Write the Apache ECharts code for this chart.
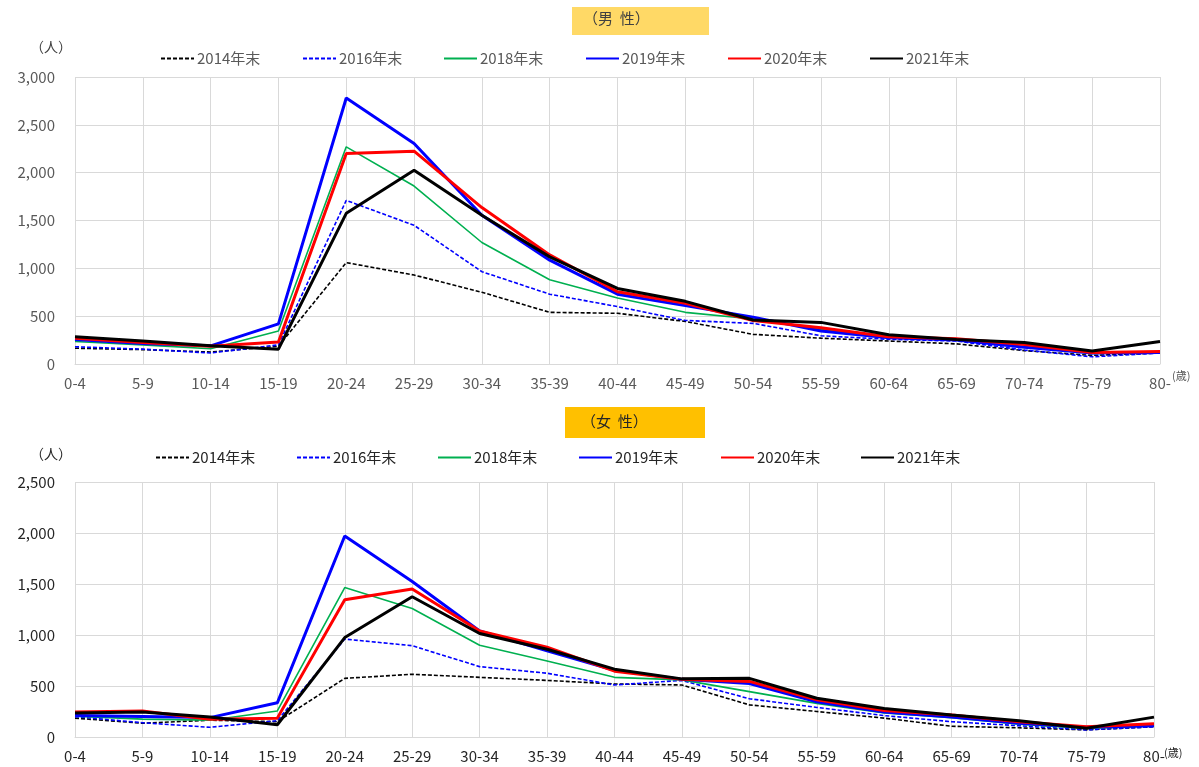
<!DOCTYPE html>
<html>
<head>
<meta charset="utf-8">
<script src="https://cdn.jsdelivr.net/npm/echarts@6/dist/echarts.min.js"></script>
<style>
html,body{margin:0;padding:0;background:#fff;}
#chart{width:1199px;height:767px;}
</style>
</head>
<body>
<div id="chart"></div>
<script>
// ---- data ----
const ages = ['0-4','5-9','10-14','15-19','20-24','25-29','30-34','35-39','40-44','45-49','50-54','55-59','60-64','65-69','70-74','75-79','80-'];
const years = ['2014年末','2016年末','2018年末','2019年末','2020年末','2021年末'];

const m2014 = [165, 150, 125, 185, 1060, 930, 750, 540, 530, 445, 310, 270, 240, 210, 140, 90, 115];
const m2016 = [180, 155, 115, 200, 1710, 1450, 965, 730, 600, 455, 425, 295, 258, 240, 146, 75, 115];
const m2018 = [235, 200, 160, 345, 2270, 1860, 1270, 880, 690, 540, 470, 360, 285, 250, 180, 110, 120];
const m2019 = [255, 215, 190, 420, 2780, 2305, 1555, 1085, 730, 610, 490, 345, 275, 250, 175, 115, 120];
const m2020 = [270, 225, 185, 230, 2200, 2225, 1635, 1140, 755, 635, 455, 380, 285, 265, 205, 120, 130];
const m2021 = [285, 240, 190, 155, 1575, 2025, 1555, 1120, 790, 655, 460, 435, 305, 255, 225, 135, 235];

const f2014 = [185, 135, 165, 150, 575, 615, 585, 555, 520, 510, 315, 250, 185, 105, 90, 70, 100];
const f2016 = [200, 140, 95, 160, 960, 895, 690, 625, 510, 555, 375, 290, 210, 150, 110, 70, 100];
const f2018 = [205, 175, 165, 255, 1465, 1260, 900, 745, 585, 560, 445, 330, 235, 190, 125, 85, 110];
const f2019 = [210, 200, 190, 335, 1970, 1525, 1040, 845, 655, 565, 525, 345, 245, 195, 135, 95, 110];
const f2020 = [245, 255, 175, 185, 1345, 1450, 1040, 880, 645, 565, 545, 365, 260, 215, 150, 100, 130];
const f2021 = [235, 245, 195, 120, 975, 1375, 1015, 860, 665, 570, 575, 380, 280, 215, 160, 85, 195];

const maleData = [m2014, m2016, m2018, m2019, m2020, m2021];
const femaleData = [f2014, f2016, f2018, f2019, f2020, f2021];

// ---- styles ----
const FONT = '"Noto Sans CJK JP", "Noto Sans", sans-serif';
const styles = [
  {color:'#000000', width:1.6, type:[4,2]},
  {color:'#0000FF', width:1.6, type:[4,2]},
  {color:'#00B050', width:1.6, type:'solid'},
  {color:'#0000FF', width:3, type:'solid'},
  {color:'#FF0000', width:3, type:'solid'},
  {color:'#000000', width:3, type:'solid'}
];

const chart = echarts.init(document.getElementById('chart'));

function fmt(v){ return v.toLocaleString('en-US'); }

const grids = [
  {left:75, right:39, top:77, height:287},
  {left:75, right:45, top:482, height:255}
];
const labelColors = ['#595959', '#262626'];

const xAxes = grids.map((g,i)=>({
  type:'category', gridIndex:i, data:ages, boundaryGap:false,
  axisLine:{show:true, lineStyle:{color:'#D9D9D9', width:1}},
  axisTick:{show:false},
  splitLine:{show:true, lineStyle:{color:'#D9D9D9', width:1}},
  axisLabel:{color:labelColors[i], fontFamily:FONT, fontSize:15, margin:12, interval:0}
}));
const yAxes = [
  {type:'value', gridIndex:0, min:0, max:3000, interval:500},
  {type:'value', gridIndex:1, min:0, max:2500, interval:500}
].map((a,i)=>Object.assign(a,{
  axisLine:{show:false}, axisTick:{show:false},
  splitLine:{show:true, lineStyle:{color:'#D9D9D9', width:1}},
  axisLabel:{color:labelColors[i], fontFamily:FONT, fontSize:15, margin:20, formatter:fmt}
}));

const series = [];
[maleData, femaleData].forEach((set, gi)=>{
  set.forEach((arr, k)=>{
    series.push({
      type:'line', name:years[k], xAxisIndex:gi, yAxisIndex:gi,
      data:arr, symbol:'none', showSymbol:false, smooth:false,
      lineStyle:{color:styles[k].color, width:styles[k].width, type:styles[k].type},
      itemStyle:{color:styles[k].color},
      emphasis:{disabled:true}, z:2+k
    });
  });
});

const legendPos = [
  {xs:[160,302,443,585,727,869], y:58, color:'#595959'},
  {xs:[155,296,437,578,720,860], y:457, color:'#262626'}
];
const legends = [];
legendPos.forEach(lp=>{
  lp.xs.forEach((x,k)=>{
    legends.push({
      data:[years[k]], left:x, top:lp.y-7, padding:0, itemWidth:33, itemHeight:14, itemGap:0,
      selectedMode:false,
      itemStyle:{opacity:0},
      textStyle:{color:lp.color, fontFamily:FONT, fontSize:15, padding:[0,0,0,-2]}
    });
  });
});

const graphic = [
  {type:'rect', left:572, top:7, shape:{width:137, height:28}, style:{fill:'#FFD966'}, z:1},
  {type:'text', left:583, top:11, style:{text:'（男  性）', fill:'#404040', font:'15px "Noto Sans CJK JP"'}, z:2},
  {type:'rect', left:565, top:407, shape:{width:140, height:31}, style:{fill:'#FFC000'}, z:1},
  {type:'text', left:581, top:414, style:{text:'（女  性）', fill:'#262626', font:'15px "Noto Sans CJK JP"'}, z:2},
  {type:'text', left:30, top:40, style:{text:'（人）', fill:'#404040', font:'14px "Noto Sans CJK JP"'}},
  {type:'text', left:30, top:447, style:{text:'（人）', fill:'#262626', font:'14px "Noto Sans CJK JP"'}},
  {type:'text', left:1172, top:370, style:{text:'(歳)', fill:'#595959', font:'11px "Noto Sans CJK JP"'}},
  {type:'text', left:1164, top:747, style:{text:'(歳)', fill:'#262626', font:'11px "Noto Sans CJK JP"'}}
];

chart.setOption({
  animation:false,
  backgroundColor:'#ffffff',
  grid:grids,
  xAxis:xAxes,
  yAxis:yAxes,
  legend:legends,
  series:series,
  graphic:graphic
});
</script>
</body>
</html>
